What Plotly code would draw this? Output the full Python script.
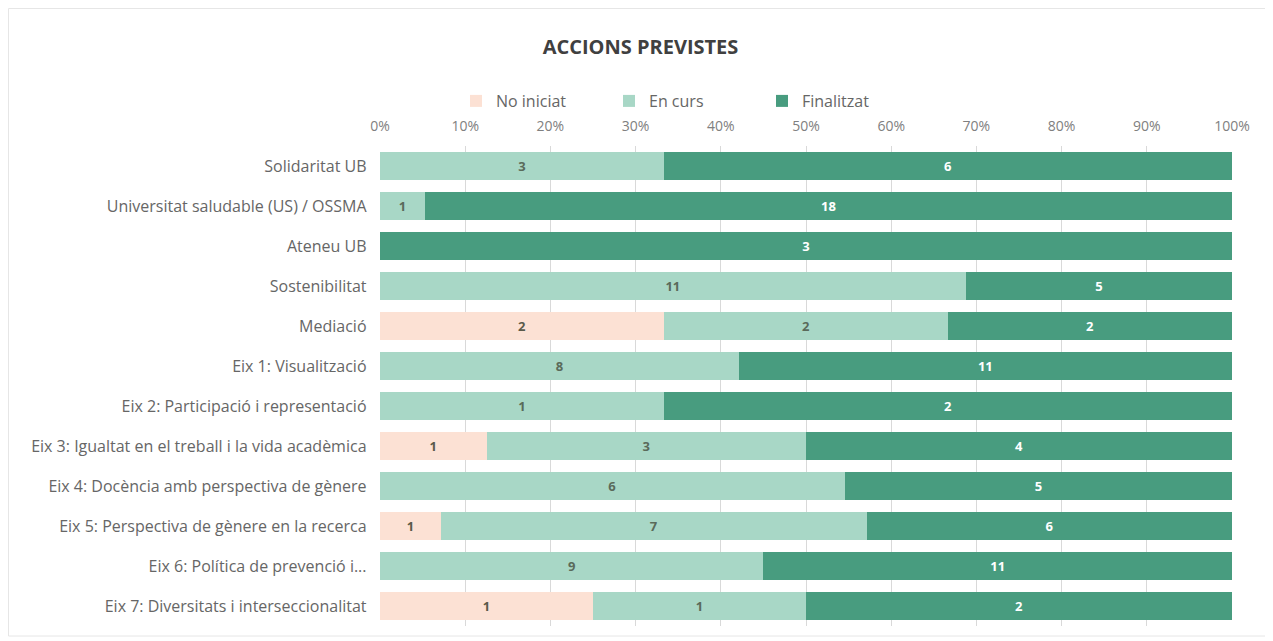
import plotly.graph_objects as go

categories = [
    "Solidaritat UB",
    "Universitat saludable (US) / OSSMA",
    "Ateneu UB",
    "Sostenibilitat",
    "Mediació",
    "Eix 1: Visualització",
    "Eix 2: Participació i representació",
    "Eix 3: Igualtat en el treball i la vida acadèmica",
    "Eix 4: Docència amb perspectiva de gènere",
    "Eix 5: Perspectiva de gènere en la recerca",
    "Eix 6: Política de prevenció i...",
    "Eix 7: Diversitats i interseccionalitat",
]
no_iniciat = [0, 0, 0, 0, 2, 0, 0, 1, 0, 1, 0, 1]
en_curs = [3, 1, 0, 11, 2, 8, 1, 3, 6, 7, 9, 1]
finalitzat = [6, 18, 3, 5, 2, 11, 2, 4, 5, 6, 11, 2]
tick_vals = [0, 10, 20, 30, 40, 50, 60, 70, 80, 90, 100]
tick_text = [f"{v}%" for v in tick_vals]

series = [
    ("No iniciat", no_iniciat, "#FCE1D4", "#5A5A4A"),
    ("En curs", en_curs, "#A8D7C6", "#5A6A5A"),
    ("Finalitzat", finalitzat, "#489C7F", "#FFFFFF"),
]

font_family = "Open Sans, Liberation Sans, sans-serif"

# the page body has an 8px margin, so the figure is a bit smaller than the window
W, H = 1265, 633
L, R, T, B = 372, 41, 138, 15
pw, ph = W - L - R, H - T - B

fig = go.Figure()
for name, vals, color, txt_color in series:
    fig.add_trace(go.Bar(
        y=categories,
        x=vals,
        name=name,
        orientation="h",
        marker=dict(color=color, line=dict(width=0)),
        text=[str(v) if v else "" for v in vals],
        textposition="inside",
        insidetextanchor="middle",
        textangle=0,
        textfont=dict(family=font_family, size=13, color=txt_color, weight="bold"),
    ))

fig.update_layout(
    barmode="stack",
    barnorm="percent",
    bargap=0.32,
    width=W,
    height=H,
    paper_bgcolor="white",
    plot_bgcolor="white",
    margin=dict(l=L, r=R, t=T, b=B),
    font=dict(family=font_family, color="#666666", size=12),
    title=dict(
        text="<b>ACCIONS PREVISTES</b>",
        x=0.5, xanchor="center", xref="container",
        y=1 - 39 / H, yanchor="middle", yref="container",
        font=dict(size=20, color="#404040", family=font_family),
    ),
    legend=dict(
        orientation="h",
        x=(448 - L) / pw, xanchor="left",
        y=(H - B - 93) / ph, yanchor="middle",
        font=dict(size=16, color="#666666"),
        traceorder="normal",
        itemwidth=30,
        entrywidth=108,
    ),
    xaxis=dict(
        side="top",
        range=[0, 100],
        tickvals=tick_vals,
        ticktext=tick_text,
        ticklabelstandoff=11,
        showgrid=True,
        gridcolor="#D9D9D9",
        gridwidth=1,
        zeroline=False,
        showline=False,
        tickfont=dict(size=14, color="#808080"),
        fixedrange=True,
    ),
    yaxis=dict(
        autorange="reversed",
        showgrid=False,
        ticksuffix="   ",
        tickfont=dict(size=16, color="#666666"),
        fixedrange=True,
    ),
    shapes=[dict(
        type="rect", xref="paper", yref="paper",
        x0=(0.5 - L) / pw, x1=(1260 - L) / pw,
        y0=(H - B - 628) / ph, y1=(H - B - 0.5) / ph,
        line=dict(color="#E6E6E6", width=1),
        layer="below",
    )],
)

fig.write_html("out.html")
